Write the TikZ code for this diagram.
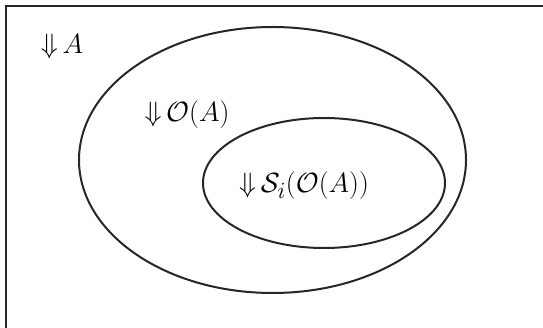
\documentclass[tikz,border=0pt]{standalone}
\usepackage{amsmath,amssymb,graphicx}
\newcommand{\bigtxt}[1]{\scalebox{1.12}{$#1$}}
\begin{document}
\begin{tikzpicture}[x=1pt,y=-1pt,
  setline/.style={line width=2pt,draw=black!85},
  lbl/.style={inner sep=0pt,font=\fontsize{24.88}{30}\selectfont}]
\useasboundingbox (0,0) rectangle (543,328);
\draw[setline] (6,340) -- (6,6) -- (560,6);
\draw[setline] (272.5,160) ellipse [x radius=193.5, y radius=133];
\draw[setline] (324,183) ellipse [x radius=121, y radius=65];
\node[lbl] (a) at (62,47) {\bigtxt{\mathord{\Downarrow}\,A}};
\node[lbl] (oa) at (187,115) {\bigtxt{\mathord{\Downarrow}\,\mathcal{O}(A)}};
\node[lbl] (soa) at (304,186) {\bigtxt{\mathord{\Downarrow}\,\mathcal{S}_i(\mathcal{O}(A))}};
\end{tikzpicture}
\end{document}
